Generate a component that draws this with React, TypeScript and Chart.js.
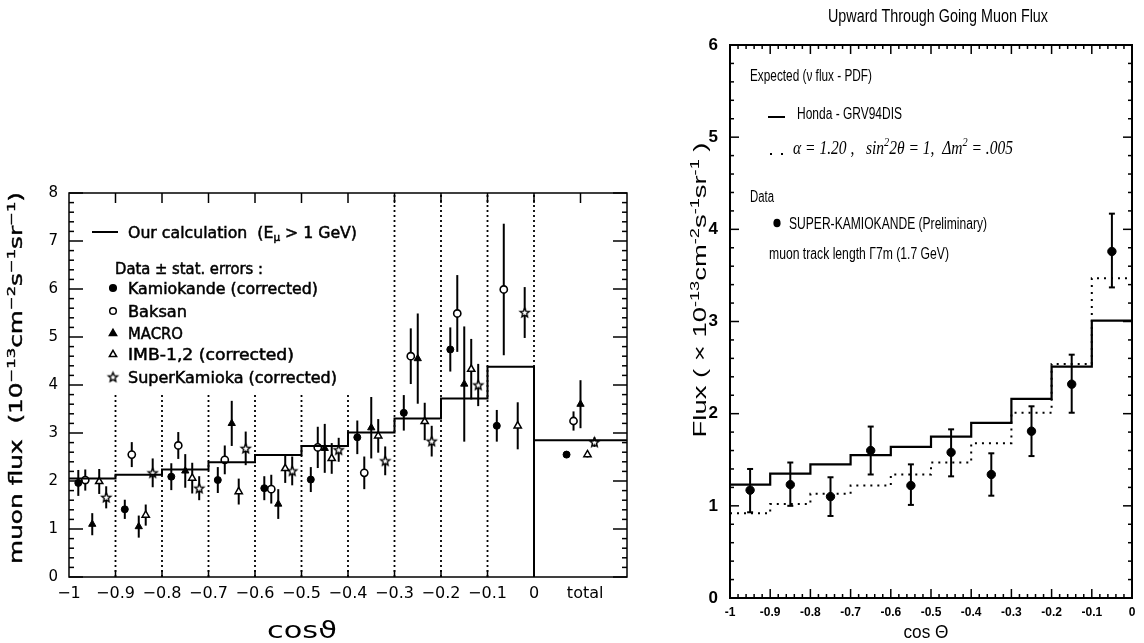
import React, { useEffect, useRef } from "react";
import { Chart, registerables } from "chart.js";

Chart.register(...registerables);

const PAGE_W = 1144;
const PAGE_H = 643;
const LEFT_W = 660;
const RIGHT_W = PAGE_W - LEFT_W;

// ---------------- Left panel data ----------------
const leftBinEdges = [-1, -0.9, -0.8, -0.7, -0.6, -0.5, -0.4, -0.3, -0.2, -0.1, 0];
const leftCalc = [2.05, 2.13, 2.24, 2.39, 2.54, 2.73, 3.01, 3.3, 3.72, 4.38];
const leftCalcTotal = 2.85;
const leftTotalRange = [0, 0.2];
const dividerX = [-0.9, -0.8, -0.7, -0.6, -0.5, -0.4, -0.3, -0.2, -0.1, 0];
const dividerTop = [3.8, 3.8, 3.8, 3.8, 3.8, 3.8, 8, 8, 8, 8];
const leftXTicks = [-1, -0.9, -0.8, -0.7, -0.6, -0.5, -0.4, -0.3, -0.2, -0.1, 0, 0.11];
const leftXLabels = ["−1", "−0.9", "−0.8", "−0.7", "−0.6", "−0.5", "−0.4", "−0.3", "−0.2", "−0.1", "0", "total"];
const leftYTicks = [0, 1, 2, 3, 4, 5, 6, 7, 8];

const kamX = [-0.98, -0.88, -0.78, -0.68, -0.58, -0.48, -0.38, -0.28, -0.18, -0.08, 0.07];
const kamY = [1.96, 1.41, 2.09, 2.02, 1.85, 2.03, 2.91, 3.42, 4.74, 3.15, 2.55];
const kamErr = [0.27, 0.2, 0.28, 0.27, 0.25, 0.26, 0.35, 0.37, 0.46, 0.33, 0.07];

const bakX = [-0.965, -0.865, -0.765, -0.665, -0.565, -0.465, -0.365, -0.265, -0.165, -0.065, 0.085];
const bakY = [2.02, 2.55, 2.74, 2.44, 1.83, 2.7, 2.17, 4.6, 5.49, 5.99, 3.25];
const bakErr = [0.22, 0.26, 0.28, 0.3, 0.3, 0.43, 0.34, 0.58, 0.8, 1.37, 0.2];

const macX = [-0.95, -0.85, -0.75, -0.65, -0.55, -0.45, -0.35, -0.25, -0.15, 0.1];
const macY = [1.1, 1.05, 2.21, 3.2, 1.52, 2.68, 3.11, 4.55, 4.02, 3.6];
const macErr = [0.23, 0.23, 0.35, 0.47, 0.31, 0.51, 0.64, 0.94, 1.2, 0.5];

const imbX = [-0.935, -0.835, -0.735, -0.635, -0.535, -0.435, -0.335, -0.235, -0.135, -0.035, 0.115];
const imbY = [1.99, 1.29, 2.06, 1.78, 2.26, 2.47, 2.94, 3.24, 4.33, 3.15, 2.55];
const imbErr = [0.26, 0.22, 0.32, 0.27, 0.3, 0.32, 0.35, 0.39, 0.63, 0.49, 0.06];

const skX = [-0.92, -0.82, -0.72, -0.62, -0.52, -0.42, -0.32, -0.22, -0.12, -0.02, 0.13];
const skY = [1.66, 2.17, 1.85, 2.68, 2.21, 2.65, 2.42, 2.83, 4.0, 5.51, 2.81];
const skErr = [0.23, 0.3, 0.25, 0.35, 0.3, 0.25, 0.3, 0.32, 0.44, 0.53, 0.1];

const leftLegendLabels = [
  "Kamiokande (corrected)",
  "Baksan",
  "MACRO",
  "IMB-1,2 (corrected)",
  "SuperKamioka (corrected)",
];

// ---------------- Right panel data ----------------
const rightBinEdges = [-1, -0.9, -0.8, -0.7, -0.6, -0.5, -0.4, -0.3, -0.2, -0.1, 0];
const hondaFlux = [1.23, 1.35, 1.45, 1.55, 1.64, 1.75, 1.9, 2.16, 2.51, 3.01];
const oscFlux = [0.92, 1.02, 1.13, 1.22, 1.34, 1.47, 1.68, 2.01, 2.54, 3.47];
const superKX = [-0.95, -0.85, -0.75, -0.65, -0.55, -0.45, -0.35, -0.25, -0.15, -0.05];
const superKFlux = [1.17, 1.23, 1.1, 1.6, 1.22, 1.58, 1.34, 1.81, 2.32, 3.76];
const superKLow = [0.93, 1.0, 0.89, 1.34, 1.01, 1.32, 1.11, 1.54, 2.01, 3.37];
const superKHigh = [1.4, 1.47, 1.31, 1.86, 1.45, 1.83, 1.57, 2.08, 2.64, 4.17];
const rightXTicks = [-1, -0.9, -0.8, -0.7, -0.6, -0.5, -0.4, -0.3, -0.2, -0.1, 0];
const rightXLabels = ["-1", "-0.9", "-0.8", "-0.7", "-0.6", "-0.5", "-0.4", "-0.3", "-0.2", "-0.1", "0"];
const rightYTicks = [0, 1, 2, 3, 4, 5, 6];

// ---------------- helpers ----------------
const LF = '"DejaVu Sans", sans-serif';
const RF = '"Liberation Sans Narrow", "Liberation Sans", Arial, sans-serif';
const SERIF = '"Liberation Serif", "DejaVu Serif", serif';

type Seg = { t: string; k?: number };
type TextOpts = {
  x: number;
  y: number;
  size: number;
  family: string;
  weight?: string;
  style?: string;
  align?: "left" | "center";
  fit?: number;
  rot?: number;
  heavy?: number;
};

function drawRich(ctx: CanvasRenderingContext2D, segs: Seg[], o: TextOpts) {
  const font = (px: number) => `${o.style || "normal"} ${o.weight || "normal"} ${px}px ${o.family}`;
  ctx.save();
  const sizes = segs.map((s) => (s.k ? o.size * 0.66 : o.size));
  const widths = segs.map((s, i) => {
    ctx.font = font(sizes[i]);
    return ctx.measureText(s.t).width;
  });
  const total = widths.reduce((a, b) => a + b, 0);
  const sx = o.fit ? o.fit / total : 1;
  ctx.translate(o.x, o.y);
  if (o.rot) ctx.rotate(o.rot);
  ctx.scale(sx, 1);
  let cx = o.align === "center" ? -total / 2 : 0;
  ctx.fillStyle = "#000";
  ctx.strokeStyle = "#000";
  ctx.textAlign = "left";
  ctx.textBaseline = "alphabetic";
  const base = o.size * 0.36;
  segs.forEach((s, i) => {
    ctx.font = font(sizes[i]);
    const dy = s.k === 1 ? -o.size * 0.42 : s.k === 2 ? o.size * 0.22 : 0;
    ctx.fillText(s.t, cx, base + dy);
    if (o.heavy) {
      ctx.lineWidth = o.heavy;
      ctx.strokeText(s.t, cx, base + dy);
    }
    cx += widths[i];
  });
  ctx.restore();
}

function line(ctx: CanvasRenderingContext2D, x1: number, y1: number, x2: number, y2: number) {
  ctx.beginPath();
  ctx.moveTo(x1, y1);
  ctx.lineTo(x2, y2);
  ctx.stroke();
}

function makeStar(r: number, lw: number) {
  const s = Math.ceil(r * 2 + lw * 2 + 2);
  const c = document.createElement("canvas");
  c.width = s;
  c.height = s;
  const g = c.getContext("2d")!;
  g.translate(s / 2, s / 2 + r * 0.08);
  g.beginPath();
  for (let i = 0; i < 10; i++) {
    const a = -Math.PI / 2 + (i * Math.PI) / 5;
    const rr = i % 2 === 0 ? r : r * 0.45;
    g.lineTo(rr * Math.cos(a), rr * Math.sin(a));
  }
  g.closePath();
  g.fillStyle = "#fff";
  g.fill();
  g.lineWidth = lw;
  g.strokeStyle = "#000";
  g.stroke();
  return c;
}

function triangle(ctx: CanvasRenderingContext2D, x: number, y: number, r: number, filled: boolean) {
  ctx.beginPath();
  for (let i = 0; i < 3; i++) {
    const a = -Math.PI / 2 + (i * 2 * Math.PI) / 3;
    ctx.lineTo(x + r * Math.cos(a), y + r * Math.sin(a));
  }
  ctx.closePath();
  ctx.fillStyle = filled ? "#000" : "#fff";
  ctx.fill();
  ctx.lineWidth = 1.5;
  ctx.strokeStyle = "#000";
  ctx.stroke();
}

function circle(ctx: CanvasRenderingContext2D, x: number, y: number, r: number, filled: boolean) {
  ctx.beginPath();
  ctx.arc(x, y, r, 0, Math.PI * 2);
  ctx.fillStyle = filled ? "#000" : "#fff";
  ctx.fill();
  ctx.lineWidth = 1.5;
  ctx.strokeStyle = "#000";
  ctx.stroke();
}

function pts(xs: number[], ys: number[]) {
  return xs.map((x, i) => ({ x, y: ys[i] }));
}
function stepPts(edges: number[], vals: number[]) {
  const p = vals.map((v, i) => ({ x: edges[i], y: v }));
  p.push({ x: edges[edges.length - 1], y: vals[vals.length - 1] });
  return p;
}

// ---------------- Left chart ----------------
function makeLeftConfig(): any {
  const star = makeStar(4.8, 1.4);
  const series = [
    { xs: kamX, ys: kamY, err: kamErr },
    { xs: bakX, ys: bakY, err: bakErr },
    { xs: macX, ys: macY, err: macErr },
    { xs: imbX, ys: imbY, err: imbErr },
    { xs: skX, ys: skY, err: skErr },
  ];
  const plugin = {
    id: "leftDeco",
    beforeDatasetsDraw(chart: any) {
      const { ctx, scales } = chart;
      const x = scales.x;
      const y = scales.y;
      ctx.save();
      ctx.strokeStyle = "#000";
      ctx.setLineDash([2, 3]);
      ctx.lineWidth = 1.8;
      dividerX.forEach((dx, i) => {
        const px = x.getPixelForValue(dx);
        line(ctx, px, y.getPixelForValue(0), px, y.getPixelForValue(dividerTop[i]));
      });
      ctx.setLineDash([]);
      ctx.lineWidth = 2;
      series.forEach((s) =>
        s.xs.forEach((xv, i) => {
          const px = x.getPixelForValue(xv);
          line(ctx, px, y.getPixelForValue(s.ys[i] - s.err[i]), px, y.getPixelForValue(s.ys[i] + s.err[i]));
        })
      );
      ctx.restore();
    },
    afterDatasetsDraw(chart: any) {
      const { ctx, chartArea: a, scales } = chart;
      const x = scales.x;
      const y = scales.y;
      ctx.save();
      ctx.strokeStyle = "#000";
      ctx.lineWidth = 1.5;
      ctx.strokeRect(a.left, a.top, a.right - a.left, a.bottom - a.top);
      for (let k = 0; k <= 40; k++) {
        const py = y.getPixelForValue(k / 5);
        const len = k % 5 === 0 ? 14 : 5;
        line(ctx, a.left, py, a.left + len, py);
        line(ctx, a.right, py, a.right - len, py);
      }
      for (let k = -9; k <= 1; k++) {
        const px = x.getPixelForValue(k / 10);
        line(ctx, px, a.top, px, a.top + 10);
      }
      for (let k = -9; k <= -1; k++) {
        const px = x.getPixelForValue(k / 10);
        line(ctx, px, a.bottom, px, a.bottom - 7);
      }
      // legend
      ctx.lineWidth = 2;
      line(ctx, 92, 232, 118, 232);
      drawRich(
        ctx,
        [{ t: "Our calculation  (E" }, { t: "μ", k: 2 }, { t: " > 1 GeV)" }],
        { x: 128, y: 232, size: 15.5, family: LF, fit: 229, heavy: 0.5 }
      );
      drawRich(ctx, [{ t: "Data ± stat. errors :" }], { x: 115, y: 268, size: 15.5, family: LF, fit: 148, heavy: 0.5 });
      const ly = [288, 311, 333, 354, 377];
      const fits = [190, 59, 55, 166, 209];
      circle(ctx, 113, ly[0], 3.3, true);
      circle(ctx, 113, ly[1], 3.3, false);
      triangle(ctx, 113, ly[2] + 0.5, 4.2, true);
      triangle(ctx, 113, ly[3] + 0.5, 4.2, false);
      ctx.drawImage(star, 113 - star.width / 2, ly[4] - star.height / 2);
      leftLegendLabels.forEach((t, i) =>
        drawRich(ctx, [{ t }], { x: 128, y: ly[i], size: 15.5, family: LF, fit: fits[i], heavy: 0.5 })
      );
      // axis titles
      drawRich(
        ctx,
        [
          { t: "muon flux  (10" },
          { t: "−13", k: 1 },
          { t: "cm" },
          { t: "−2", k: 1 },
          { t: "s" },
          { t: "−1", k: 1 },
          { t: "sr" },
          { t: "−1", k: 1 },
          { t: ")" },
        ],
        { x: 16, y: 378, size: 17, family: LF, align: "center", rot: -Math.PI / 2, fit: 372, heavy: 0.4 }
      );
      drawRich(ctx, [{ t: "cosϑ" }], { x: 302, y: 630, size: 23, family: LF, align: "center", fit: 70 });
      ctx.restore();
    },
  };

  return {
    type: "scatter",
    data: {
      datasets: [
        {
          type: "line",
          data: [...stepPts(leftBinEdges, leftCalc), { x: 0, y: 0 }],
          stepped: true,
          borderColor: "#000",
          borderWidth: 2,
          pointRadius: 0,
          fill: false,
        },
        {
          type: "line",
          data: [
            { x: leftTotalRange[0], y: leftCalcTotal },
            { x: leftTotalRange[1], y: leftCalcTotal },
          ],
          borderColor: "#000",
          borderWidth: 2,
          pointRadius: 0,
          fill: false,
        },
        { data: pts(kamX, kamY), pointStyle: "circle", pointRadius: 3.5, backgroundColor: "#000", borderColor: "#000", borderWidth: 1 },
        { data: pts(bakX, bakY), pointStyle: "circle", pointRadius: 3.6, backgroundColor: "#fff", borderColor: "#000", borderWidth: 1.6 },
        { data: pts(macX, macY), pointStyle: "triangle", pointRadius: 4.2, backgroundColor: "#000", borderColor: "#000", borderWidth: 1 },
        { data: pts(imbX, imbY), pointStyle: "triangle", pointRadius: 4.2, backgroundColor: "#fff", borderColor: "#000", borderWidth: 1.5 },
        { data: pts(skX, skY), pointStyle: star, pointRadius: 5, backgroundColor: "#fff", borderColor: "#000" },
      ],
    },
    options: {
      responsive: false,
      animation: false,
      devicePixelRatio: 1,
      events: [],
      layout: { padding: { left: 0, top: 193, right: LEFT_W - 627, bottom: 0 } },
      plugins: { legend: { display: false }, tooltip: { enabled: false } },
      scales: {
        x: {
          type: "linear",
          min: -1,
          max: 0.2,
          grid: { display: false, drawTicks: false },
          border: { display: false },
          afterBuildTicks: (s: any) => {
            s.ticks = leftXTicks.map((v) => ({ value: v }));
          },
          afterFit: (s: any) => {
            s.height = 66;
          },
          ticks: {
            autoSkip: false,
            maxRotation: 0,
            padding: 7,
            color: "#000",
            font: { family: LF, size: 16 },
            callback: (_v: any, i: number) => leftXLabels[i],
          },
        },
        y: {
          type: "linear",
          min: 0,
          max: 8,
          grid: { display: false, drawTicks: false },
          border: { display: false },
          afterBuildTicks: (s: any) => {
            s.ticks = leftYTicks.map((v) => ({ value: v }));
          },
          afterFit: (s: any) => {
            s.width = 69;
          },
          ticks: {
            padding: 11,
            color: "#000",
            font: { family: LF, size: 15 },
            callback: (v: any) => String(v),
          },
        },
      },
    },
    plugins: [plugin],
  };
}

// ---------------- Right chart ----------------
function makeRightConfig(): any {
  const plugin = {
    id: "rightDeco",
    beforeDatasetsDraw(chart: any) {
      const { ctx, scales } = chart;
      const x = scales.x;
      const y = scales.y;
      ctx.save();
      ctx.strokeStyle = "#000";
      ctx.lineWidth = 2;
      superKX.forEach((xv, i) => {
        const px = x.getPixelForValue(xv);
        const top = y.getPixelForValue(superKHigh[i]);
        const bot = y.getPixelForValue(superKLow[i]);
        line(ctx, px, top, px, bot);
        line(ctx, px - 3, top, px + 3, top);
        line(ctx, px - 3, bot, px + 3, bot);
      });
      ctx.restore();
    },
    afterDatasetsDraw(chart: any) {
      const { ctx, chartArea: a, scales } = chart;
      const x = scales.x;
      const y = scales.y;
      ctx.save();
      ctx.strokeStyle = "#000";
      ctx.lineWidth = 2;
      ctx.strokeRect(a.left, a.top, a.right - a.left, a.bottom - a.top);
      ctx.lineWidth = 1.5;
      for (let k = 0; k <= 30; k++) {
        const py = y.getPixelForValue(k / 5);
        const len = k % 5 === 0 ? 9 : 4;
        line(ctx, a.left, py, a.left + len, py);
        line(ctx, a.right, py, a.right - len, py);
      }
      for (let k = -50; k <= 0; k++) {
        const px = x.getPixelForValue(k / 50);
        const len = k % 5 === 0 ? 9 : 4;
        line(ctx, px, a.bottom, px, a.bottom - len);
        line(ctx, px, a.top, px, a.top + len);
      }
      // title
      drawRich(ctx, [{ t: "Upward Through Going Muon Flux" }], { x: 278, y: 15, size: 19, family: RF, align: "center", fit: 220 });
      // legend
      drawRich(ctx, [{ t: "Expected (ν flux - PDF)" }], { x: 90, y: 75, size: 16, family: RF, fit: 122 });
      ctx.lineWidth = 2;
      line(ctx, 108, 117, 125, 117);
      drawRich(ctx, [{ t: "Honda - GRV94DIS" }], { x: 137, y: 113, size: 16, family: RF, fit: 105 });
      ctx.fillStyle = "#000";
      ctx.fillRect(110, 153, 2, 2);
      ctx.fillRect(121, 153, 2, 2);
      drawRich(
        ctx,
        [
          { t: "α = 1.20 ,   sin" },
          { t: "2", k: 1 },
          { t: "2θ = 1,  Δm" },
          { t: "2", k: 1 },
          { t: " = .005" },
        ],
        { x: 133, y: 147, size: 19, family: SERIF, style: "italic", fit: 220 }
      );
      drawRich(ctx, [{ t: "Data" }], { x: 90, y: 196, size: 16, family: RF, fit: 24 });
      ctx.beginPath();
      ctx.ellipse(117, 223, 3.6, 4.3, 0, 0, Math.PI * 2);
      ctx.fillStyle = "#000";
      ctx.fill();
      drawRich(ctx, [{ t: "SUPER-KAMIOKANDE (Preliminary)" }], { x: 129, y: 223, size: 16, family: RF, fit: 198 });
      drawRich(ctx, [{ t: "muon track length Γ7m (1.7 GeV)" }], { x: 109, y: 253, size: 16, family: RF, fit: 180 });
      // axis titles
      drawRich(
        ctx,
        [
          { t: "Flux ( × 10" },
          { t: "-13", k: 1 },
          { t: "cm" },
          { t: "-2", k: 1 },
          { t: "s" },
          { t: "-1", k: 1 },
          { t: "sr" },
          { t: "-1", k: 1 },
          { t: " )" },
        ],
        { x: 40, y: 290, size: 18, family: RF, align: "center", rot: -Math.PI / 2, fit: 295 }
      );
      drawRich(ctx, [{ t: "cos Θ" }], { x: 266, y: 631, size: 19, family: RF, align: "center", fit: 45 });
      ctx.restore();
    },
  };

  return {
    type: "scatter",
    data: {
      datasets: [
        {
          type: "line",
          data: stepPts(rightBinEdges, hondaFlux),
          stepped: true,
          borderColor: "#000",
          borderWidth: 2.2,
          pointRadius: 0,
          fill: false,
        },
        {
          type: "line",
          data: stepPts(rightBinEdges, oscFlux),
          stepped: true,
          borderColor: "#000",
          borderWidth: 2,
          borderDash: [2, 5],
          pointRadius: 0,
          fill: false,
        },
        {
          data: pts(superKX, superKFlux),
          pointStyle: "circle",
          pointRadius: 4.2,
          backgroundColor: "#000",
          borderColor: "#000",
          borderWidth: 1,
        },
      ],
    },
    options: {
      responsive: false,
      animation: false,
      devicePixelRatio: 1,
      events: [],
      layout: { padding: { left: 0, top: 45, right: RIGHT_W - 472, bottom: 0 } },
      plugins: { legend: { display: false }, tooltip: { enabled: false } },
      scales: {
        x: {
          type: "linear",
          min: -1,
          max: 0,
          grid: { display: false, drawTicks: false },
          border: { display: false },
          afterBuildTicks: (s: any) => {
            s.ticks = rightXTicks.map((v) => ({ value: v }));
          },
          afterFit: (s: any) => {
            s.height = 45;
          },
          ticks: {
            autoSkip: false,
            maxRotation: 0,
            padding: 7,
            color: "#000",
            font: { family: RF, size: 12, weight: "bold" },
            callback: (_v: any, i: number) => rightXLabels[i],
          },
        },
        y: {
          type: "linear",
          min: 0,
          max: 6,
          grid: { display: false, drawTicks: false },
          border: { display: false },
          afterBuildTicks: (s: any) => {
            s.ticks = rightYTicks.map((v) => ({ value: v }));
          },
          afterFit: (s: any) => {
            s.width = 70;
          },
          ticks: {
            padding: 12,
            color: "#000",
            font: { family: RF, size: 17, weight: "bold" },
            callback: (v: any) => String(v),
          },
        },
      },
    },
    plugins: [plugin],
  };
}

function ChartCanvas({ make, left, width }: { make: () => any; left: number; width: number }) {
  const ref = useRef<HTMLCanvasElement>(null);
  useEffect(() => {
    const chart = new Chart(ref.current!, make());
    return () => chart.destroy();
  }, []);
  return (
    <canvas
      ref={ref}
      width={width}
      height={PAGE_H}
      style={{ position: "absolute", left, top: 0, width, height: PAGE_H }}
    />
  );
}

export default function App() {
  return (
    <div
      style={{
        position: "absolute",
        left: 0,
        top: 0,
        width: PAGE_W,
        height: PAGE_H,
        background: "#fff",
        overflow: "hidden",
      }}
    >
      <ChartCanvas make={makeLeftConfig} left={0} width={LEFT_W} />
      <ChartCanvas make={makeRightConfig} left={LEFT_W} width={RIGHT_W} />
    </div>
  );
}
